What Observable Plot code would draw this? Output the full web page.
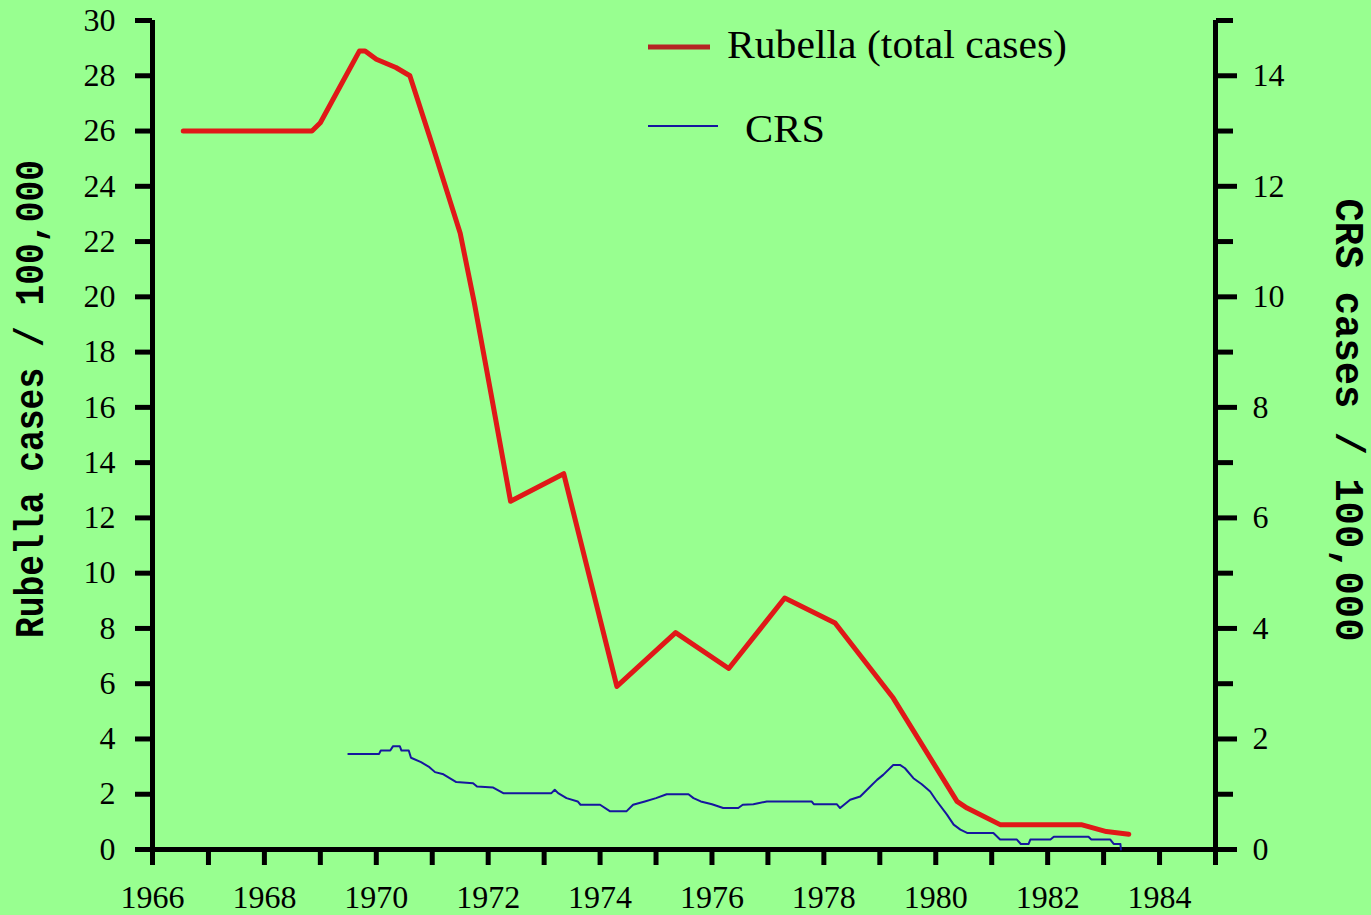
<!DOCTYPE html>
<html>
<head>
<meta charset="utf-8">
<script src="https://cdn.jsdelivr.net/npm/d3@7"></script>
<script src="https://cdn.jsdelivr.net/npm/@observablehq/plot@0.6"></script>
<style>
  html, body { margin: 0; padding: 0; background: #98ff90; }
  #chart svg { display: block; }
</style>
</head>
<body>
<div id="chart"></div>
<script>
// ---- Data ----
const rubellaYear = [1966.55, 1968.85, 1969.0, 1969.35, 1969.7, 1969.8, 1970.0, 1970.35, 1970.6, 1971.0, 1971.5, 1971.75, 1972.05, 1972.4, 1973.35, 1974.3, 1975.35, 1976.3, 1977.3, 1978.2, 1979.24, 1980.38, 1980.56, 1981.15, 1982.6, 1983.05, 1983.45];
const rubellaRate = [26.0, 26.0, 26.3, 27.6, 28.9, 28.9, 28.6, 28.3, 28.0, 25.5, 22.3, 19.8, 16.5, 12.6, 13.6, 5.9, 7.85, 6.55, 9.1, 8.2, 5.48, 1.74, 1.5, 0.9, 0.9, 0.65, 0.55];

const crsYear = [1969.5, 1970.05, 1970.08, 1970.25, 1970.3, 1970.42, 1970.45, 1970.58, 1970.62, 1970.8, 1970.95, 1971.05, 1971.2, 1971.43, 1971.73, 1971.8, 1972.09, 1972.27, 1973.13, 1973.19, 1973.25, 1973.4, 1973.6, 1973.65, 1974.0, 1974.18, 1974.47, 1974.59, 1974.8, 1975.0, 1975.19, 1975.58, 1975.67, 1975.8, 1976.0, 1976.2, 1976.47, 1976.55, 1976.74, 1976.98, 1977.78, 1977.82, 1978.23, 1978.29, 1978.47, 1978.65, 1978.83, 1978.95, 1979.06, 1979.24, 1979.36, 1979.45, 1979.6, 1979.75, 1979.9, 1980.0, 1980.2, 1980.32, 1980.44, 1980.56, 1981.03, 1981.15, 1981.45, 1981.52, 1981.66, 1981.69, 1982.05, 1982.11, 1982.73, 1982.78, 1983.12, 1983.18, 1983.3, 1983.31];
const crsRate = [1.73, 1.73, 1.79, 1.79, 1.87, 1.87, 1.79, 1.79, 1.66, 1.58, 1.49, 1.40, 1.36, 1.22, 1.20, 1.14, 1.12, 1.02, 1.02, 1.08, 1.02, 0.93, 0.87, 0.81, 0.81, 0.69, 0.69, 0.81, 0.87, 0.93, 1.0, 1.0, 0.93, 0.87, 0.82, 0.75, 0.75, 0.81, 0.82, 0.87, 0.87, 0.82, 0.82, 0.75, 0.90, 0.96, 1.14, 1.26, 1.35, 1.53, 1.53, 1.47, 1.29, 1.18, 1.05, 0.90, 0.63, 0.45, 0.36, 0.30, 0.30, 0.18, 0.18, 0.10, 0.10, 0.18, 0.18, 0.23, 0.23, 0.18, 0.18, 0.10, 0.10, 0.0];

// Tick values
const xTicks = d3.range(1966, 1986, 1);
const xLabels = d3.range(1966, 1985, 2);
const leftTicks = d3.range(0, 31, 2);
const rightMajor = d3.range(0, 15, 2);   // CRS units, labelled
const rightMinor = d3.range(1, 16, 2);   // CRS units, unlabelled
const CRS_TO_LEFT = 2;                   // right axis (CRS) = left axis / 2

const legendLabels = ["Rubella (total cases)", "CRS"];
const titleLeft = "Rubella cases / 100,000";
const titleRight = "CRS cases / 100,000";

const RED = "#e01818";
const BLUE = "#16169e";
const BG = "#98ff90";

const rubella = rubellaYear.map((x, i) => ({year: x, value: rubellaRate[i]}));
const crs = crsYear.map((x, i) => ({year: x, value: crsRate[i] * CRS_TO_LEFT}));

const chart = Plot.plot({
  width: 1371,
  height: 915,
  marginLeft: 152,
  marginRight: 156,
  marginTop: 20,
  marginBottom: 66,
  style: {background: BG, fontFamily: "'Liberation Serif', serif", fontSize: "32px", color: "#000"},
  x: {domain: [1966, 1985], axis: null, label: null},
  y: {domain: [0, 30], axis: null, label: null},
  marks: [
    Plot.axisX({ticks: xTicks, tickSize: 16, tickPadding: 20, strokeWidth: 5, label: null,
      tickFormat: d => xLabels.includes(d) ? String(d) : "", fontSize: 32}),
    Plot.axisY({anchor: "left", ticks: leftTicks, tickSize: 17, tickPadding: 20, strokeWidth: 5, label: null,
      tickFormat: d => String(d), fontSize: 32}),
    Plot.axisY({anchor: "right", ticks: rightMajor.map(v => v * CRS_TO_LEFT), tickSize: 21, tickPadding: 16, strokeWidth: 5, label: null,
      tickFormat: d => String(d / CRS_TO_LEFT), fontSize: 32}),
    Plot.axisY({anchor: "right", ticks: rightMinor.map(v => v * CRS_TO_LEFT), tickSize: 17, strokeWidth: 5, label: null,
      tickFormat: () => ""}),
    Plot.ruleX([1966], {strokeWidth: 5}),
    Plot.ruleX([1985], {strokeWidth: 5}),
    Plot.ruleY([0], {strokeWidth: 5}),
    Plot.line(rubella, {x: "year", y: "value", stroke: RED, strokeWidth: 5}),
    Plot.line(crs, {x: "year", y: "value", stroke: BLUE, strokeWidth: 2})
  ]
});

document.getElementById("chart").appendChild(chart);

// Axis titles and legend (layout)
const svg = d3.select(chart);
svg.append("text")
  .attr("transform", "translate(32,399) rotate(-90)")
  .attr("text-anchor", "middle").attr("dominant-baseline", "central")
  .attr("font-family", "'Liberation Mono', monospace").attr("font-weight", "bold").attr("font-size", 40)
  .attr("textLength", 478).attr("lengthAdjust", "spacingAndGlyphs")
  .attr("fill", "#000")
  .text(titleLeft);
svg.append("text")
  .attr("transform", "translate(1346,420) rotate(90)")
  .attr("text-anchor", "middle").attr("dominant-baseline", "central")
  .attr("font-family", "'Liberation Mono', monospace").attr("font-weight", "bold").attr("font-size", 40)
  .attr("textLength", 443).attr("lengthAdjust", "spacingAndGlyphs")
  .attr("fill", "#000")
  .text(titleRight);

const lg = svg.append("g").attr("text-anchor", "start");
lg.append("line").attr("x1", 648).attr("x2", 710).attr("y1", 47).attr("y2", 47)
  .attr("stroke", "#b52424").attr("stroke-width", 5);
lg.append("text").attr("x", 727).attr("y", 58).attr("text-anchor", "start")
  .attr("font-family", "'Liberation Serif', serif").attr("font-size", 39)
  .attr("textLength", 340).attr("lengthAdjust", "spacingAndGlyphs")
  .attr("fill", "#000").text(legendLabels[0]);
lg.append("line").attr("x1", 648).attr("x2", 718).attr("y1", 126).attr("y2", 126)
  .attr("stroke", BLUE).attr("stroke-width", 2);
lg.append("text").attr("x", 745).attr("y", 142).attr("text-anchor", "start")
  .attr("font-family", "'Liberation Serif', serif").attr("font-size", 39)
  .attr("textLength", 80).attr("lengthAdjust", "spacingAndGlyphs")
  .attr("fill", "#000").text(legendLabels[1]);
</script>
</body>
</html>
